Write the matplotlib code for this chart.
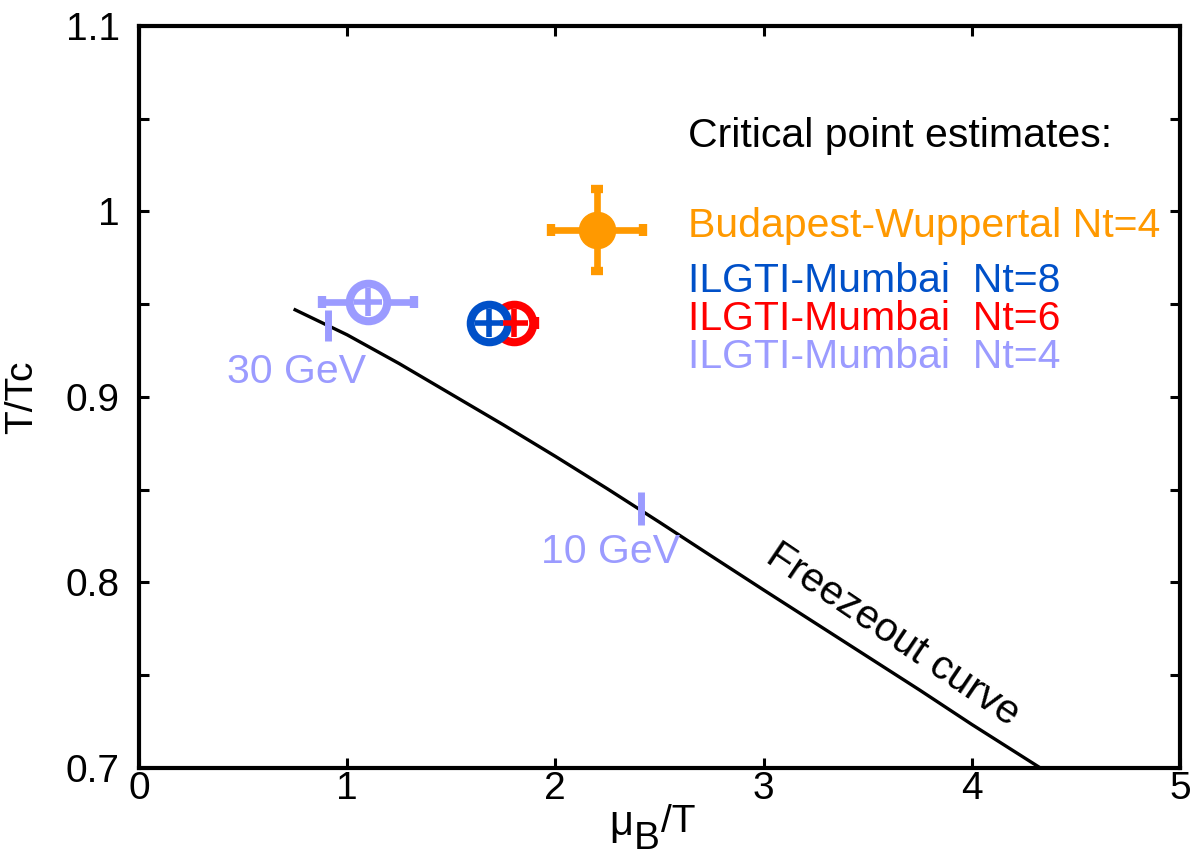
import matplotlib
matplotlib.use("Agg")
import matplotlib.pyplot as plt
from matplotlib.ticker import MultipleLocator, FuncFormatter

plt.rcParams['font.family'] = ['Liberation Sans', 'DejaVu Sans']

# Freezeout curve
fo_x = [0.75, 1.0, 1.25, 1.5, 1.75, 2.0, 2.25, 2.5, 2.75, 3.0, 3.25, 3.5, 3.75, 4.0, 4.33]
fo_y = [0.947, 0.9335, 0.918, 0.9015, 0.885, 0.868, 0.8505, 0.8325, 0.8142, 0.796, 0.778, 0.760, 0.742, 0.7235, 0.700]

# Critical point estimates
labels = ["Budapest-Wuppertal Nt=4", "ILGTI-Mumbai  Nt=8", "ILGTI-Mumbai  Nt=6", "ILGTI-Mumbai  Nt=4"]
colors = ["#ff9900", "#0050c8", "#ff0000", "#9b9bff"]
cp_x = [2.2, 1.68, 1.80, 1.10]
cp_y = [0.99, 0.94, 0.94, 0.951]
cp_xerr = [0.22, 0.05, 0.10, 0.22]
cp_yerr = [0.022, 0.0, 0.0, 0.0]

# energy markers
en_labels = ["30 GeV", "10 GeV"]
en_x = [0.91, 2.41]
en_ylo = [0.930, 0.831]
en_yhi = [0.947, 0.849]

W, H = 1193, 855
fig = plt.figure(figsize=(W / 100, H / 100), dpi=100)
ax = fig.add_axes([0.1165, 0.1018, 0.989 - 0.1165, 0.9696 - 0.1018])

ax.plot(fo_x, fo_y, color='black', lw=2.4, zorder=2, solid_joinstyle='round')

light = colors[3]
for x, lo, hi in zip(en_x, en_ylo, en_yhi):
    ax.vlines(x, lo, hi, color=light, lw=5, zorder=2)

order = [3, 2, 1, 0]
for i in order:
    c = colors[i]
    xe = cp_xerr[i] if cp_xerr[i] > 0 else None
    ye = cp_yerr[i] if cp_yerr[i] > 0 else None
    ax.errorbar(cp_x[i], cp_y[i], xerr=xe, yerr=ye, fmt='none', ecolor=c,
                elinewidth=4.8, capsize=4, capthick=6, zorder=3)
    if i == 0:
        ax.plot(cp_x[i], cp_y[i], 'o', ms=26, color=c, mec=c, zorder=4)
    else:
        ax.plot(cp_x[i], cp_y[i], 'o', ms=27, mfc='white', mec=c, mew=5.8, zorder=4)
        ax.plot(cp_x[i], cp_y[i], '+', ms=20, color=c, mew=4, zorder=5)

fs = 29.5
ax.text(2.637, 1.0348, "Critical point estimates:", fontsize=fs, color='black', ha='left', va='baseline')
ys = [0.9863, 0.9566, 0.9361, 0.9156]
for lab, c, yy in zip(labels, colors, ys):
    ax.text(2.637, yy, lab, fontsize=fs, color=c, ha='left', va='baseline')

ax.text(0.425, 0.9075, en_labels[0], fontsize=fs, color=light, ha='left', va='baseline')
ax.text(1.93, 0.8105, en_labels[1], fontsize=fs, color=light, ha='left', va='baseline')
ax.text(3.62, 0.7717, "Freezeout curve", fontsize=fs, color='black', ha='center', va='center',
        rotation=-34, rotation_mode='anchor')

ax.set_xlim(0, 5)
ax.set_ylim(0.7, 1.1)
ax.xaxis.set_major_locator(MultipleLocator(1))
ax.yaxis.set_major_locator(MultipleLocator(0.1))
ax.yaxis.set_minor_locator(MultipleLocator(0.05))
ax.xaxis.set_major_formatter(FuncFormatter(lambda v, p: f"{v:g}"))
ax.yaxis.set_major_formatter(FuncFormatter(lambda v, p: "1" if abs(v - 1) < 1e-9 else f"{v:.1f}"))
ax.tick_params(axis='both', which='both', direction='in', top=True, right=True, width=2.2, length=7, labelsize=28)
ax.tick_params(axis='x', pad=2)
ax.tick_params(axis='y', pad=14)
for s in ax.spines.values():
    s.set_linewidth(3)

ax.set_ylabel("T/Tc", fontsize=28, labelpad=18)

# x label: mu, large lowered B, /T (pixel placement from top-left)
def ftext(px, py, s, size):
    fig.text(px / W, 1 - py / H, s, fontsize=size, ha='left', va='baseline')

ftext(609, 835, "\u03bc", 30)
ftext(634, 849, "B", 28)
ftext(661, 832, "/T", 28)

fig.savefig("out.png", dpi=100)
